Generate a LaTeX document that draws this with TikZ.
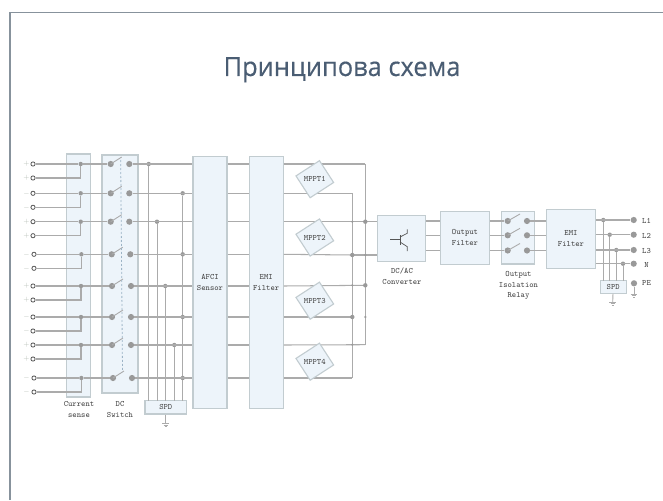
\documentclass[tikz,border=0pt]{standalone}
\usepackage{fontspec}
\usetikzlibrary{calc}
\newfontfamily\titlefont[FakeBold=0.35,FakeStretch=0.96]{Open Sans}
\definecolor{boxfill}{HTML}{EDF4FA}
\definecolor{boxline}{HTML}{C2CCD0}
\definecolor{wire}{HTML}{ABABAB}
\definecolor{dotc}{HTML}{999999}
\definecolor{labelc}{HTML}{454545}
\definecolor{termc}{HTML}{555555}
\definecolor{titlec}{HTML}{4A5D73}
\definecolor{framec}{HTML}{87929C}
\definecolor{signc}{HTML}{B5BDB5}
\definecolor{dashc}{HTML}{9DB4C6}
\tikzset{
  block/.style={draw=boxline,fill=boxfill,line width=1.1pt,minimum width=0pt,inner sep=0pt,align=center,font=\ttfamily\fontsize{8.2}{10.5}\selectfont,text=labelc},
  wireline/.style={draw=wire,line width=1.05pt},
  thinwire/.style={draw=wire,line width=0.9pt},
  bigdot/.style={circle,fill=dotc,inner sep=0pt,minimum size=6.2pt},
  smalldot/.style={circle,fill=dotc,inner sep=0pt,minimum size=4.4pt},
  tinydot/.style={circle,fill=dotc,inner sep=0pt,minimum size=2.4pt},
  termin/.style={circle,draw=termc,fill=white,line width=0.8pt,inner sep=0pt,minimum size=4.2pt},
  capt/.style={font=\ttfamily\fontsize{8.2}{10.5}\selectfont,text=labelc,align=center,inner sep=0pt},
  signlab/.style={font=\fontsize{7}{7}\selectfont,inner sep=0pt,text=signc},
  bladeline/.style={draw=wire,line width=0.9pt},
  mppt/.style={block,rotate=33,minimum width=28pt,minimum height=26pt},
  transis/.style={draw=termc,line width=0.7pt},
}
\newcommand{\gnd}[1]{%
  \draw[thinwire] ($(#1)+(-3.4,0)$) -- ($(#1)+(3.4,0)$);
  \draw[thinwire] ($(#1)+(-2.2,1.6)$) -- ($(#1)+(2.2,1.6)$);
  \draw[thinwire] ($(#1)+(-0.9,3.2)$) -- ($(#1)+(0.9,3.2)$);
}
\begin{document}
\begin{tikzpicture}[x=1pt,y=-1pt]
\useasboundingbox (0,0) rectangle (663,500);
\fill[white] (0,0) rectangle (663,500);
\coordinate (fa) at (10,500); \coordinate (fb) at (10,12.6); \coordinate (fc) at (663,12.6);
\draw[framec,line width=1.2pt] (fa) -- (fb) -- (fc);
\node[font=\titlefont\fontsize{26.5}{28}\selectfont,text=titlec,inner sep=0pt,anchor=base] (title) at (342,76) {Принципова схема};

% panels under the wiring
\node[block,minimum width=24pt,minimum height=243pt] (cs) at (78.7,275.5) {};
\node[block,minimum width=36pt,minimum height=238pt] (dc) at (120,274) {};

% input rows
\foreach \i/\y/\c/\tx/\jx/\lx/\rx/\bx in {
 1/164/0/33/80.7/110.7/129.3/121.7,
 3/193.3/1/33/80.7/110.7/129.3/121.7,
 5/221.7/0/33/80.7/110.7/129.3/121.7,
 7/254.3/1/34/81.4/111.7/130.3/122.7,
 9/286/0/33/81/112/131/123,
 11/317/1/33/81/112/131/123,
 13/345/0/33/81/112/131/123,
 15/378/1/34/81.4/113/132/124}{
  \pgfmathsetmacro{\ytwo}{\y+14}
  \node[termin] (t\i) at (\tx,\y) {};
  \node[termin] (u\i) at (\tx,\ytwo) {};
  \node[smalldot] (j\i) at (\jx,\y) {};
  \node[bigdot] (l\i) at (\lx,\y) {};
  \node[bigdot] (r\i) at (\rx,\y) {};
  \coordinate (b\i) at (\bx,\y-7);
  \draw[wireline] (t\i) -- (j\i) -- (l\i);
  \draw[wireline] (u\i) -| (j\i);
  \draw[bladeline] (l\i.center) -- (b\i);
  \ifnum\c=0
    \node[signlab] at (26.5,\y) {+};
    \node[signlab] at (26.5,\ytwo) {+};
  \else
    \node[signlab] at (26.5,\y) {$-$};
    \node[signlab] at (26.5,\ytwo) {$-$};
  \fi
}
\coordinate (dashtop) at (120.7,160);
\coordinate (dashbot) at (122.5,372);
\draw[draw=dashc,line width=0.8pt,dash pattern=on 2pt off 2pt] (dashtop) -- (dashbot);

% AFCI, EMI, SPD
\node[block,minimum width=34pt,minimum height=251.5pt] (afci) at (210,282.5) {AFCI\\Sensor};
\node[block,minimum width=34pt,minimum height=251.5pt] (emi) at (266.2,282.5) {EMI\\Filter};
\node[block,minimum width=41.7pt,minimum height=13.3pt] (spd) at (165.8,407.3) {SPD};
\coordinate (spdg) at (165.8,423.5);
\draw[thinwire] (spd) -- (spdg); \gnd{spdg}

% wires switch -> AFCI -> EMI and buses
\foreach \i/\y/\bus in {1/164/148.7,3/193.3/182.7,5/221.7/157,7/254.3/182.7,9/286/165.3,11/317/182.7,13/345/174.3,15/378/182.7}{
  \coordinate (a\i) at (afci.west |- 0,\y);
  \coordinate (e\i) at (emi.west |- 0,\y);
  \coordinate (f\i) at (afci.east |- 0,\y);
  \coordinate (g\i) at (emi.east |- 0,\y);
  \node[smalldot] (n\i) at (\bus,\y) {};
  \coordinate (s\i) at (\bus,400.7);
  \draw[wireline] (r\i) -- (a\i);
  \draw[wireline] (f\i) -- (e\i);
  \draw[thinwire] (n\i) -- (s\i);
}

% DC buses
\coordinate (busA) at (365.3,221.7);
\coordinate (busB) at (352.3,255);
\node[block,minimum width=48.4pt,minimum height=45.6pt] (dcac) at (401.5,238.5) {};
\node[capt] (dcaclab) at (402,276) {DC/AC\\Converter};
\foreach \n/\y in {1/164,5/221.7,9/285.3,13/344.7}{ \draw[wireline] (g\n) -- (365.3,\y); }
\foreach \n/\y in {3/193.3,7/255,11/317,15/378}{ \draw[wireline] (g\n) -- (352.3,\y); }
\draw[thinwire] (365.3,164) -- (365.3,344.7);
\draw[thinwire] (352.3,193.3) -- (352.3,378);
\draw[wireline] (busA) -- (dcac.west |- busA);
\draw[wireline] (busB) -- (dcac.west |- busB);
\foreach \p in {(365.3,221.7),(365.3,285.3),(352.3,255),(352.3,317)}{\node[smalldot] at \p {};}
\foreach \p in {(352.3,221.7),(352.3,285.3),(352.3,344.7),(365.3,255),(365.3,317)}{\node[tinydot] at \p {};}

% MPPT
\foreach \n/\y in {1/179.2,2/237.5,3/300.7,4/361.7}{
  \node[mppt] (m\n) at (314.8,\y) {};
  \node[capt] at (314.8,\y) {MPPT\n};
}

% transistor
\draw[transis] (390,239.7) -- (400,239.7);
\draw[transis,line width=0.9pt] (400,235) -- (400,245);
\draw[transis] (400,237) -- (407.3,233.3) -- (407.3,229.3);
\draw[transis] (400,242) -- (407.3,246.7) -- (407.3,251);

% output filter
\node[block,minimum width=48.6pt,minimum height=52.7pt] (ofil) at (465,237.7) {Output\\Filter};
\node[block,minimum width=32.6pt,minimum height=52.3pt] (rel) at (518,237.8) {};
\node[capt] (rellab) at (518.5,285.5) {Output\\Isolation\\Relay};
\node[block,minimum width=48.6pt,minimum height=58.7pt] (emib) at (571,238.7) {EMI\\Filter};
\foreach \k/\y in {1/221,2/235.3,3/250.5}{
  \draw[wireline] (dcac.east |- 0,\y) -- (ofil.west |- 0,\y);
  \draw[wireline] (ofil.east |- 0,\y) -- (rel.west |- 0,\y);
  \node[bigdot] (ll\k) at (507.7,\y) {};
  \node[bigdot] (rr\k) at (527,\y) {};
  \draw[bladeline] (ll\k.center) -- (520,\y-7);
  \draw[wireline] (rr\k) -- (emib.west |- 0,\y);
  \draw[wireline] (rel.west |- 0,\y) -- (ll\k);
}

% output
\node[block,minimum width=25.7pt,minimum height=12.6pt] (ospd) at (613.2,287) {SPD};
\foreach \n/\y/\x/\t in {1/220/603.3/L1,2/234.7/609.7/L2,3/250/616.3/L3,4/263.7/623/N}{
  \node[smalldot] (od\n) at (\x,\y) {};
  \node[bigdot] (ot\n) at (633.7,\y) {};
  \draw[wireline] (emib.east |- 0,\y) -- (ot\n);
  \draw[thinwire] (od\n) -- (\x,280.7);
  \node[capt,anchor=center] at (646.5,\y+0.8) {\t};
}
\coordinate (og) at (612.7,302);
\draw[thinwire] (ospd) -- (og); \gnd{og}
\node[bigdot] (pe) at (634,283.3) {};
\coordinate (peg) at (634,294);
\draw[thinwire] (pe) -- (peg); \gnd{peg}
\node[capt] at (646.5,283.3) {PE};

% captions
\node[capt] (cslab) at (79,409.5) {Current\\sense};
\node[capt] (dclab) at (120,409.5) {DC\\Switch};
\end{tikzpicture}
\end{document}
